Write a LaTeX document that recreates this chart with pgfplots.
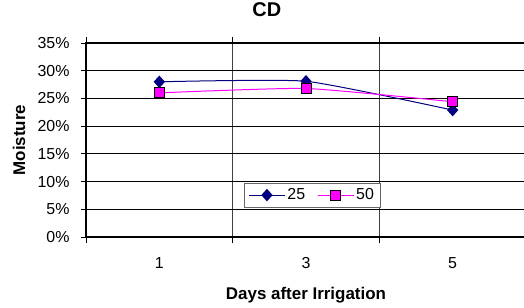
\documentclass[border=0pt]{standalone}
\usepackage{pgfplots}
\pgfplotsset{compat=1.18}
\usepackage{fontspec}
\setmainfont{Liberation Sans}
\definecolor{navyline}{RGB}{0,0,128}
\definecolor{magline}{RGB}{255,0,255}
\begin{document}
\begin{tikzpicture}
\useasboundingbox (-86bp,-71bp) rectangle (438bp,237bp);
\begin{axis}[
  scale only axis, width=440bp, height=194bp,
  xmin=-0.5, xmax=2.5, ymin=0, ymax=35,
  xtick={0,1,2}, xticklabels={1,3,5},
  minor xtick={-0.5,0.5,1.5,2.5},
  ytick={0,5,...,35},
  yticklabel={\pgfmathprintnumber{\tick}\%},
  /pgf/number format/assume math mode=true,
  tick align=outside,
  major tick length=5bp, minor tick length=6bp,
  xtick style={draw=none},
  minor x tick style={draw=black, line width=0.8bp},
  ytick style={black, line width=0.8bp},
  ymajorgrids, major grid style={black, line width=0.8bp},
  xminorgrids, minor grid style={black!75, line width=0.8bp},
  axis line style={line width=2.5bp},
  tick label style={font=\fontsize{16}{18}\selectfont},
  xticklabel style={anchor=base, yshift=-26bp},
  yticklabel style={anchor=east, xshift=-8bp},
  title={\bfseries CD},
  title style={at={(axis description cs:0.411,1.108)}, anchor=base, font=\fontsize{20}{22}\selectfont},
  xlabel={\bfseries Days after Irrigation},
  xlabel style={at={(axis description cs:0.5,-0.3247)}, anchor=base, font=\fontsize{17}{19}\selectfont},
  ylabel={\bfseries Moisture},
  ylabel style={at={(axis description cs:-0.1386,0.5)}, anchor=base, rotate=0, font=\fontsize{17}{19}\selectfont},
  legend columns=2,
  legend style={at={(axis description cs:0.514,0.216)}, anchor=center, draw=black!60, fill=white,
    font=\fontsize{16}{18}\selectfont, inner sep=4bp, /tikz/every even column/.append style={column sep=10bp}},
  legend image code/.code={\draw[#1] (0bp,0bp) -- (18bp,0bp) -- (36bp,0bp); \path[#1, mark repeat=2, mark phase=2] plot coordinates {(0bp,0bp) (18bp,0bp) (36bp,0bp)};},
  clip=false,
]
\addplot[navyline, line width=1bp, smooth, tension=0.3, mark=diamond*, mark size=5.5bp, mark options={solid, fill=navyline, xscale=1.2}]
  coordinates {(0,28.0) (1,28.1) (2,22.9)};
\addlegendentry{25}
\addplot[magline, line width=1bp, smooth, tension=0.3, mark=square*, mark size=5bp, mark options={solid, fill=magline, draw=black, line width=0.8bp}]
  coordinates {(0,26.0) (1,26.8) (2,24.4)};
\addlegendentry{50}
\end{axis}
\end{tikzpicture}
\end{document}
